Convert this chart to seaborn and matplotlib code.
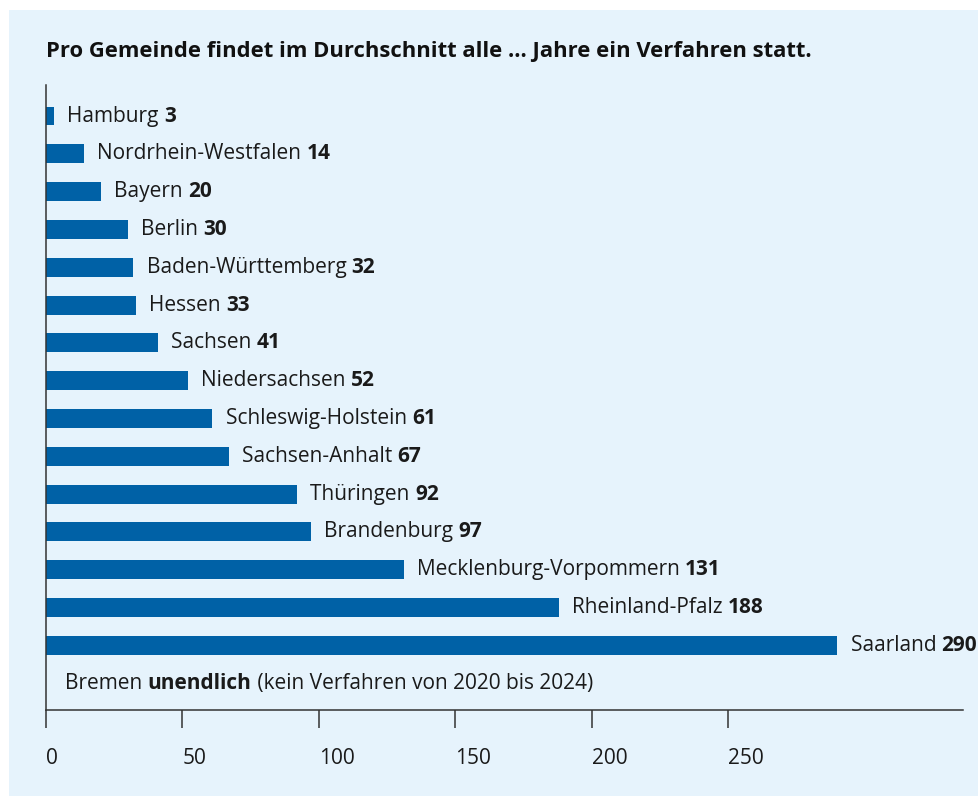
import matplotlib
matplotlib.use("Agg")
import matplotlib.pyplot as plt
import seaborn as sns
import pandas as pd
from matplotlib.patches import Rectangle

# Daten
laender = ["Hamburg", "Nordrhein-Westfalen", "Bayern", "Berlin", "Baden-Württemberg",
           "Hessen", "Sachsen", "Niedersachsen", "Schleswig-Holstein", "Sachsen-Anhalt",
           "Thüringen", "Brandenburg", "Mecklenburg-Vorpommern", "Rheinland-Pfalz", "Saarland"]
jahre = [3, 14, 20, 30, 32, 33, 41, 52, 61, 67, 92, 97, 131, 188, 290]
ticks = [0, 50, 100, 150, 200, 250]

titel = "Pro Gemeinde findet im Durchschnitt alle ... Jahre ein Verfahren statt."
bremen_name = "Bremen "
bremen_wert = "unendlich"
bremen_rest = " (kein Verfahren von 2020 bis 2024)"

df = pd.DataFrame({"land": laender, "jahre": jahre})

sns.set_style("white")
plt.rcParams["font.family"] = ["Open Sans", "DejaVu Sans"]

W, H = 979, 796
fig = plt.figure(figsize=(W / 100, H / 100), dpi=100)
fig.patch.set_facecolor("white")
bg = "#e6f3fc"
fig.patches.append(Rectangle((9 / W, 0), 1 - 9 / W, 1 - 10 / H, transform=fig.transFigure,
                             facecolor=bg, edgecolor="none", zorder=-5))

ax = fig.add_axes([46 / W, 1 - 710 / H, (963 - 46) / W, (710 - 85) / H])
ax.set_facecolor("none")

sns.barplot(data=df, x="jahre", y="land", orient="h", color="#0061a6",
            width=0.5, saturation=1, linewidth=0, ax=ax)

ax.set_xlim(0, 336)
ax.set_ylim(15.71, -0.82)

txt = "#1a1a1a"
fs = 15.0
for i, (land, wert) in enumerate(zip(laender, jahre)):
    t = ax.annotate(land + " ", xy=(wert, i), xytext=(9.5, 0), textcoords="offset points",
                    ha="left", va="center", fontsize=fs, color=txt)
    ax.annotate(str(wert), xy=(1, 0), xycoords=t, ha="left", va="bottom",
                fontsize=fs, fontweight="bold", color=txt)

t1 = ax.text(7, 15, bremen_name, ha="left", va="center", fontsize=fs, color=txt)
t2 = ax.annotate(bremen_wert, xy=(1, 0), xycoords=t1, ha="left", va="bottom",
                 fontsize=fs, fontweight="bold", color=txt)
ax.annotate(bremen_rest, xy=(1, 0), xycoords=t2, ha="left", va="bottom",
            fontsize=fs, color=txt)

fig.text(46 / W, 1 - 51 / H, titel, ha="left", va="center", fontsize=15.8,
         fontweight="bold", color="#111111")

ax.set_xlabel("")
ax.set_ylabel("")
ax.set_yticks([])
ax.set_xticks(ticks)
ax.set_xticklabels([str(v) for v in ticks], ha="left", fontsize=fs, color=txt)
ax.tick_params(axis="x", bottom=True, direction="out", length=13, width=1.1,
               color="#333333", pad=14)

sns.despine(ax=ax, top=True, right=True)
for s in ["left", "bottom"]:
    ax.spines[s].set_color("#333333")
    ax.spines[s].set_linewidth(1.1)

fig.savefig("out.png", dpi=100, facecolor="white")
